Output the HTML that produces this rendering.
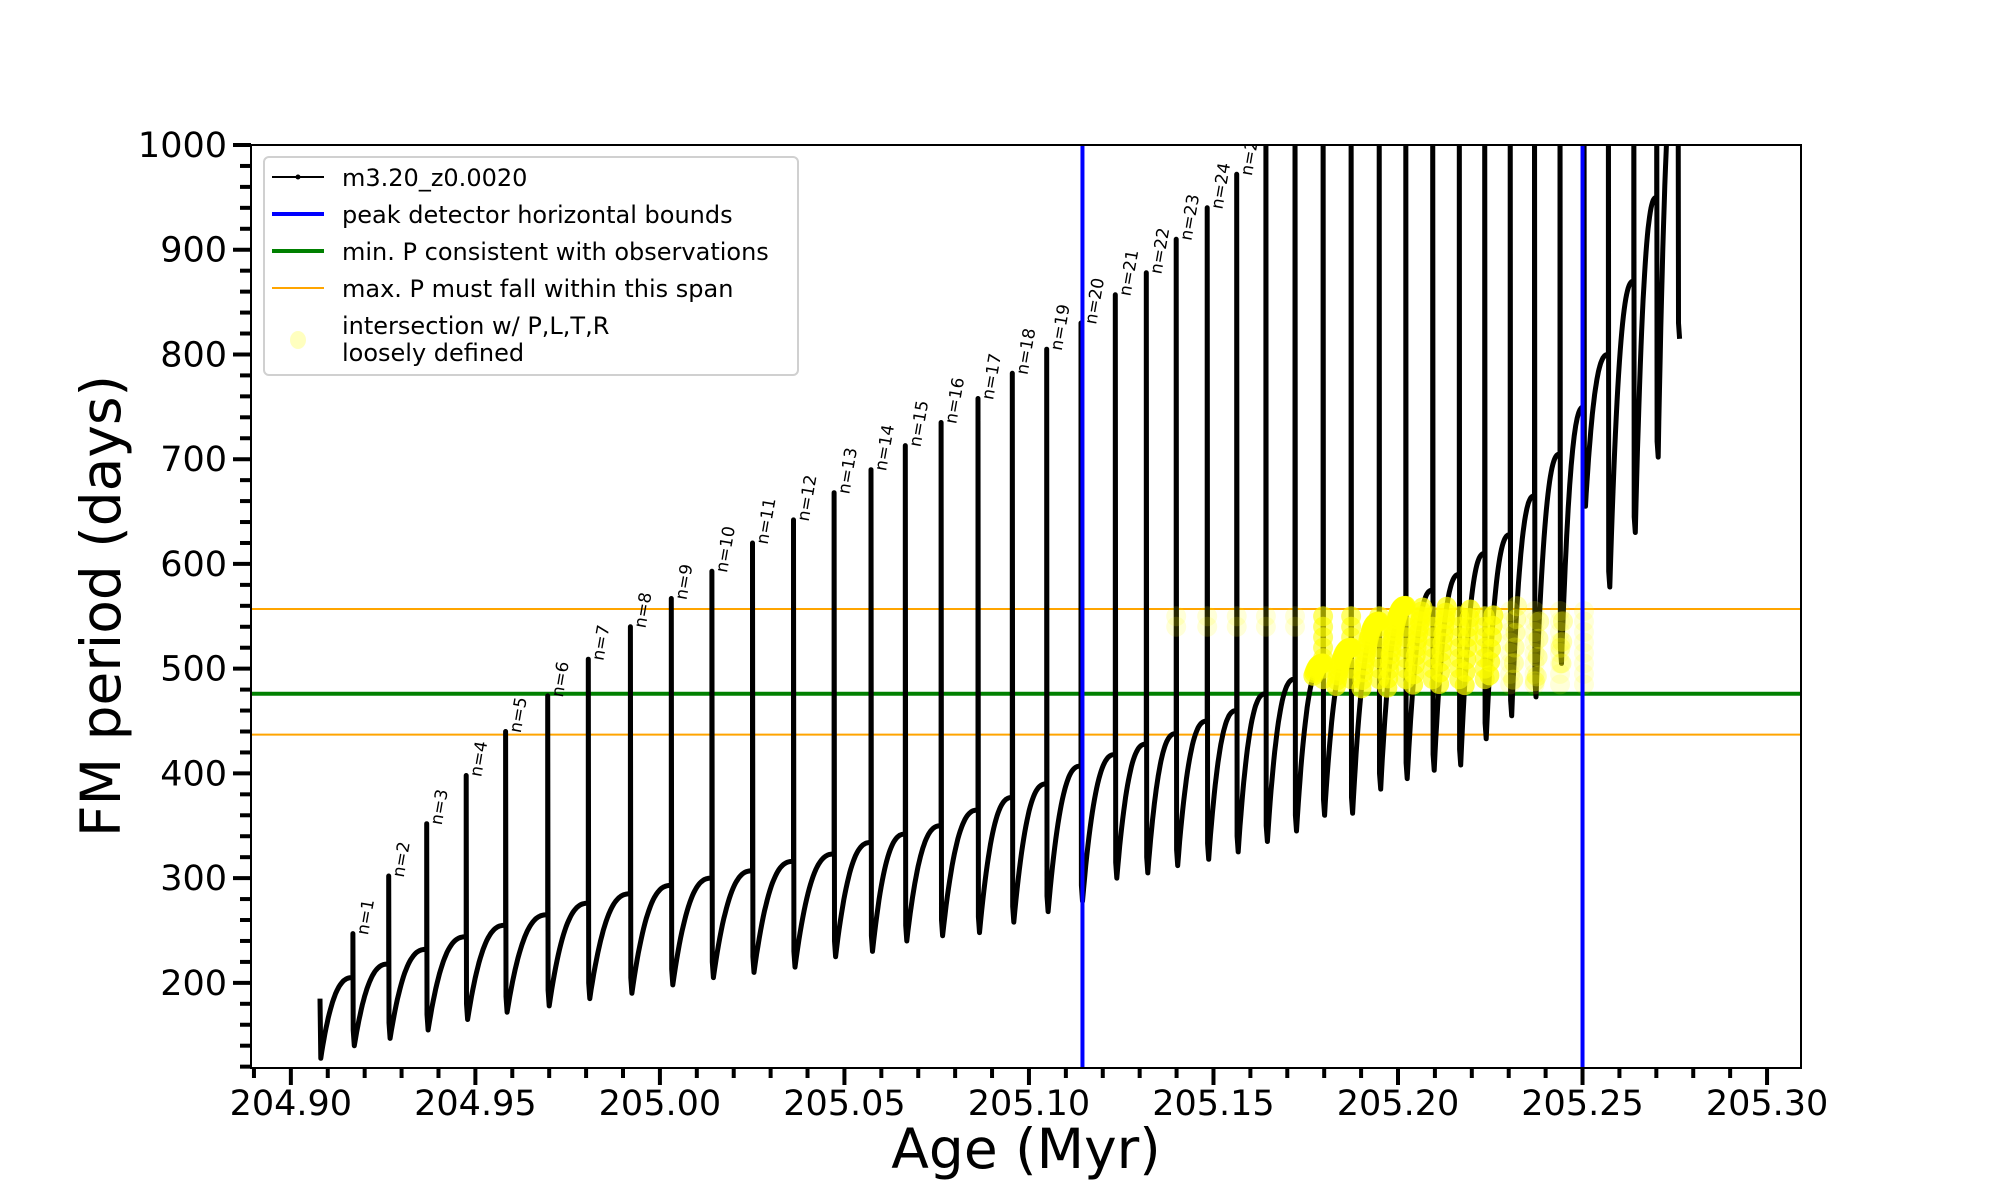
<!DOCTYPE html>
<html><head><meta charset="utf-8"><style>
html,body{margin:0;padding:0;background:#fff;}
svg{display:block;font-family:"DejaVu Sans","Liberation Sans",sans-serif;}
</style></head><body>
<svg id="chart" width="2000" height="1200" viewBox="0 0 2000 1200">
<defs><clipPath id="plotclip"><rect x="251" y="145" width="1550" height="923"/></clipPath></defs>
<rect width="2000" height="1200" fill="#fff"/>
<g id="marks" clip-path="url(#plotclip)"></g>
<g id="axes"></g>
</svg>
<script>
const spikeAges=[204.9168,204.9265,204.9368,204.9475,204.9582,204.9696,204.9806,204.9920,205.0031,205.0141,205.0251,205.0362,205.0472,205.0572,205.0665,205.0762,205.0862,205.0955,205.1048,205.1141,205.1234,205.1318,205.1399,205.1483,205.1563,205.1642,205.1721,205.1797,205.1873,205.1949,205.2021,205.2094,205.2166,205.2235,205.2304,205.2370,205.2439,205.2504,205.2570,205.2639,205.2701,205.2759];
const preMaxVals=[205,218,232,244,255,265,276,285,293,300,307,316,323,334,342,350,365,377,390,407,418,428,438,450,460,476,490,505,520,545,560,575,590,610,628,665,705,750,800,870,950,1100];
const peakVals=[247,302,352,398,440,474,509,540,567,593,620,642,668,690,713,735,758,782,805,830,857,878,910,940,972,1100,1100,1100,1100,1100,1100,1100,1100,1100,1100,1100,1100,1100,1100,1100,1100,1100];
const dipVals=[140,147,155,165,172,178,185,190,198,205,210,215,225,230,240,245,248,258,268,278,300,305,312,318,325,335,345,360,362,385,395,403,408,433,455,473,505,655,578,630,702,815];
const startAge=204.9079, startVal=185, firstDip=128;
const xTickVals=[204.90,204.95,205.00,205.05,205.10,205.15,205.20,205.25,205.30];
const yTickVals=[200,300,400,500,600,700,800,900,1000];
const blueBounds=[205.1145,205.25];
const minP=476;
const maxPSpan=[437,557];

const X0=251,X1=1801,Y0=145,Y1=1068;
const XMIN=204.8892,XMAX=205.3092,YMIN=118.7,YMAX=1000;
function xs(a){return X0+(a-XMIN)/(XMAX-XMIN)*(X1-X0);}
function ys(v){return Y0+(YMAX-v)/(YMAX-YMIN)*(Y1-Y0);}
const NS="http://www.w3.org/2000/svg";
function mk(tag,attrs,parent){const e=document.createElementNS(NS,tag);for(const k in attrs)e.setAttribute(k,attrs[k]);parent.appendChild(e);return e;}
const marks=document.getElementById('marks');
const axes=document.getElementById('axes');

const pts=[];
pts.push([startAge,startVal]);
pts.push([startAge+0.0002,firstDip]);
let curDipAge=startAge+0.0002, curDip=firstDip;
for(let k=0;k<spikeAges.length;k++){
  const t=spikeAges[k];
  const n=30;
  for(let i=1;i<=n;i++){const u=i/n;const f=1-Math.pow(1-u,2.6);pts.push([curDipAge+(t-curDipAge)*u,curDip+(preMaxVals[k]-curDip)*f]);}
  pts.push([t,peakVals[k]]);
  pts.push([t+0.0001,dipVals[k]+15]);
  curDipAge=t+0.0004;curDip=dipVals[k];
  pts.push([curDipAge,curDip]);
}
let d='';
pts.forEach((p,i)=>{d+=(i?'L':'M')+xs(p[0]).toFixed(1)+' '+ys(p[1]).toFixed(1);});

maxPSpan.forEach((v,i)=>{
  const l=mk('line',{x1:X0,x2:X1,y1:ys(v),y2:ys(v),stroke:'#ffa500','stroke-width':2},marks);
  
  
});
const gl=mk('line',{x1:X0,x2:X1,y1:ys(minP),y2:ys(minP),stroke:'#008000','stroke-width':4},marks);



const path=mk('path',{d:d,fill:'none',stroke:'#000','stroke-width':5,'stroke-linejoin':'round'},marks);



const yg=mk('g',{},marks);


pts.forEach(p=>{
  if(p[0]>=205.177&&p[0]<=205.246&&p[1]>=480&&p[1]<=560){
    const op=p[0]>205.226?0.3:0.7;
    const c=mk('circle',{cx:xs(p[0]),cy:ys(p[1]),r:10,fill:'#ffff00',opacity:op},yg);
    
    
  }
});
spikeAges.forEach((t,k)=>{
  if(t>=205.139&&t<=205.251){
    const strong=(t>205.176&&t<205.226);
    const top=Math.min(peakVals[k],557),bot=strong?490:(t>205.226?485:540);
    for(let v=bot;v<=top;v+=10){
      const c=mk('circle',{cx:xs(t),cy:ys(v),r:10,fill:'#ffff00',opacity:strong?0.6:0.15},yg);
      
      
    }
  }
});

blueBounds.forEach((a,i)=>{
  const l=mk('line',{x1:xs(a),x2:xs(a),y1:Y0,y2:Y1,stroke:'#0000ff','stroke-width':4},marks);
  
  
});

for(let k=0;k<25;k++){
  const x=xs(spikeAges[k])+15,y=ys(peakVals[k])+2;
  const tx=mk('text',{x:x,y:y,transform:`rotate(-80 ${x} ${y})`,'font-size':17,fill:'#000'},marks);
  tx.textContent='n='+(k+1);
  
  
}

const fr=mk('rect',{x:X0,y:Y0,width:X1-X0,height:Y1-Y0,fill:'none',stroke:'#000','stroke-width':2},axes);



for(let i=0;i<=42;i++){
  const a=204.89+i*0.01; const x=xs(a); if(x<X0-1||x>X1)continue;
  const major=(i%5===1);
  const t=mk('line',{x1:x,x2:x,y1:Y1,y2:Y1+(major?17:10),stroke:'#000','stroke-width':4},axes);
  
  
}
xTickVals.forEach(v=>{
  const t=mk('text',{x:xs(v),y:1115,'text-anchor':'middle','font-size':35,fill:'#000'},axes);
  t.textContent=v.toFixed(2);
  
  
});
for(let v=120;v<=1000;v+=20){
  const y=ys(v); const major=(v%100===0);
  const t=mk('line',{x1:X0-(major?18:11),x2:X0,y1:y,y2:y,stroke:'#000','stroke-width':4},axes);
  
  
}
yTickVals.forEach(v=>{
  const t=mk('text',{x:227,y:ys(v)+12,'text-anchor':'end','font-size':35,fill:'#000'},axes);
  t.textContent=String(v);
  
  
});
const xt=mk('text',{x:1026,y:1168,'text-anchor':'middle','font-size':55,fill:'#000'},axes);
xt.textContent='Age (Myr)';


const ytt=mk('text',{x:120,y:606,'text-anchor':'middle','font-size':55,fill:'#000',transform:'rotate(-90 120 606)'},axes);
ytt.textContent='FM period (days)';


</script>
<svg style="position:absolute;left:0;top:0" width="2000" height="1200">
<g font-family="DejaVu Sans, Liberation Sans, sans-serif" font-size="24">
<rect x="264" y="157" width="534" height="218" rx="5" fill="#fff" fill-opacity="0.85" stroke="#d0d0d0" stroke-width="2"/>
<g><line x1="272" x2="324" y1="177" y2="177" stroke="#000" stroke-width="2"/><circle cx="298" cy="177" r="2.5"/><text x="342" y="186">m3.20_z0.0020</text></g>
<g><line x1="272" x2="324" y1="214" y2="214" stroke="#0000ff" stroke-width="4"/><text x="342" y="223">peak detector horizontal bounds</text></g>
<g><line x1="272" x2="324" y1="251" y2="251" stroke="#008000" stroke-width="4"/><text x="342" y="260">min. P consistent with observations</text></g>
<g><line x1="272" x2="324" y1="288" y2="288" stroke="#ffa500" stroke-width="2"/><text x="342" y="297">max. P must fall within this span</text></g>
<g><ellipse cx="298" cy="340" rx="8" ry="9" fill="#ffff00" opacity="0.25"/><text x="342" y="334">intersection w/ P,L,T,R</text><text x="342" y="361">loosely defined</text></g>
</g>
</svg>
</body></html>
